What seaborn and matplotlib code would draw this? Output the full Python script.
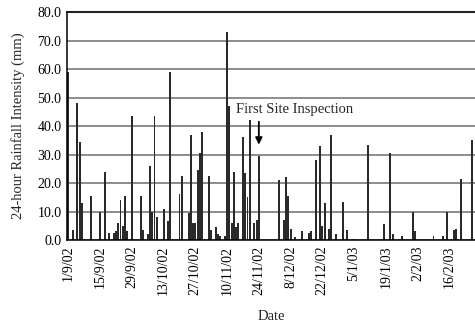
import numpy as np
import pandas as pd
import seaborn as sns
import matplotlib
matplotlib.use("Agg")
import matplotlib.pyplot as plt

# dias com chuva (dias depois de 1/9/02) e a chuva em 24 h (mm)
rain_days = [0, 2, 4, 5, 6, 7, 10, 14, 16, 18, 20, 21, 22, 23, 24, 25, 26, 28,
             32, 33, 35, 36, 37, 38, 39, 42, 44, 45, 49, 50, 53, 54, 55, 56, 57,
             58, 59, 62, 63, 65, 66, 67, 69, 70, 71, 72, 73, 74, 75, 77, 78, 79,
             80, 82, 83, 84, 93, 95, 96, 97, 98, 100, 103, 106, 107, 109, 111,
             112, 113, 115, 116, 118, 121, 123, 126, 132, 139, 142, 143, 147,
             152, 153, 161, 165, 167, 170, 171, 173, 178]
rain_mm = [59.0, 3.5, 48.0, 34.5, 13.0, 0.5, 15.5, 10.0, 24.0, 2.5, 2.5, 3.0,
           6.0, 14.0, 5.0, 15.5, 3.0, 43.5, 15.5, 3.5, 2.0, 26.0, 10.0, 43.5,
           8.0, 11.0, 6.5, 59.0, 16.0, 22.5, 9.5, 37.0, 6.0, 6.0, 24.5, 30.5,
           38.0, 22.5, 3.5, 4.5, 2.0, 1.5, 1.5, 73.0, 47.0, 6.0, 24.0, 4.5, 6.0,
           36.0, 23.5, 15.0, 42.0, 6.0, 7.0, 29.5, 21.0, 7.0, 22.0, 15.5, 4.0,
           1.0, 3.0, 2.5, 3.0, 28.0, 33.0, 5.0, 13.0, 4.0, 37.0, 2.0, 13.5, 3.5,
           0.5, 33.5, 5.5, 30.5, 2.0, 1.5, 10.0, 3.0, 1.5, 1.5, 10.0, 3.5, 4.0,
           21.5, 35.0]
tick_labels = ['1/9/02', '15/9/02', '29/9/02', '13/10/02', '27/10/02',
               '10/11/02', '24/11/02', '8/12/02', '22/12/02', '5/1/03',
               '19/1/03', '2/2/03', '16/2/03']

n_days = 181
df = pd.DataFrame({'dia': np.arange(n_days), 'chuva': 0.0})
df.loc[rain_days, 'chuva'] = rain_mm

sns.set_style('white')
plt.rcParams['font.family'] = ['Liberation Serif', 'DejaVu Serif']

fig = plt.figure(figsize=(4.75, 3.27), dpi=100)
ax = fig.add_axes([0.141, 0.266, 0.859, 0.697])

ax.yaxis.grid(True, color='#6e6e6e', linewidth=1.1)
ax.set_axisbelow(True)
sns.barplot(data=df, x='dia', y='chuva', color='#2a2a2a', width=0.85,
            linewidth=0, ax=ax)

ax.set_ylim(0, 80)
ax.set_xlim(-0.6, 179.3)
ax.set_yticks(np.arange(0, 81, 10))
ax.set_yticklabels([f'{v:.1f}' for v in np.arange(0, 81, 10)], fontsize=10)
ax.set_xticks(np.arange(0, 169, 14))
ax.set_xticklabels(tick_labels, rotation=90, fontsize=10)
ax.tick_params(axis='both', length=2, width=0.8, pad=2, colors='black')
ax.set_xlabel('Date', fontsize=10.5, labelpad=11)
ax.set_ylabel('24-hour Rainfall Intensity (mm)', fontsize=10.5, labelpad=9)

for s in ['top', 'right']:
    ax.spines[s].set_visible(False)
for s in ['left', 'bottom']:
    ax.spines[s].set_color('black')
    ax.spines[s].set_linewidth(1.1)
ax.axhline(80, color='#222222', linewidth=1.5, clip_on=False)

ax.annotate('', xy=(84, 32.5), xytext=(84, 42.5),
            arrowprops=dict(arrowstyle='-|>', color='black', lw=1.3,
                            mutation_scale=10))
ax.text(74.0, 45.8, 'First Site Inspection', fontsize=10.5, va='center',
        ha='left')

fig.savefig('out.png', dpi=100)
